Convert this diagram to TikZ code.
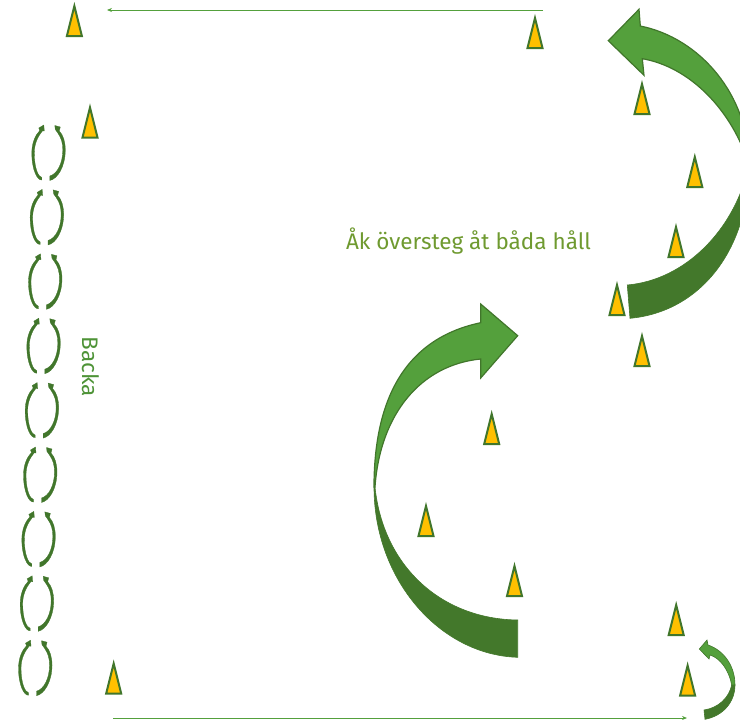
\documentclass[tikz,border=0pt]{standalone}
\usepackage{fontspec}
\setmainfont{Fira Sans}
\usetikzlibrary{arrows.meta}
\definecolor{bordergreen}{HTML}{41762B}
\definecolor{lightgreen}{HTML}{54A03C}
\definecolor{darkgreen}{HTML}{43782B}
\definecolor{textgreen}{HTML}{6F9A30}
\definecolor{cone}{HTML}{FFC000}
\tikzset{
  conemark/.style={draw=bordergreen,fill=cone,line width=2pt,line join=miter},
  upperarc/.style={draw=bordergreen,fill=lightgreen,line width=1.2pt,line join=miter},
  lowerarc/.style={draw=darkgreen,fill=darkgreen,line width=.6pt,line join=miter},
  linkarc/.style={fill=bordergreen,draw=bordergreen,line width=.3pt},
  runline/.style={draw=lightgreen,line width=.8pt,-{Stealth[length=5pt,width=4pt]}},
  caption/.style={inner sep=0pt,font=\fontsize{22.5}{26}\selectfont}
}
\begin{document}
\begin{tikzpicture}[x=1pt,y=-1pt]
\useasboundingbox (0,0) rectangle (740,720);
\clip (0,0) rectangle (740,720);
% cones
\foreach \cx/\cy in {74.4/6,535/18,642/84,694.8/157,676/227,617/285,642/336,90/107.5,491.7/414,426/506,514.5/566,676.2/605,687.6/665.5,113.7/663.5}{
  \draw[conemark] (\cx,\cy) -- (\cx+7.5,\cy+30) -- (\cx-7.5,\cy+30) -- cycle;
}
% large lower arrow
\fill[lowerarc] (374,487) .. controls (374,580) and (440,655) .. (517.7,657.3) -- (517.7,620) .. controls (440,619) and (383,565) .. (375,487) -- cycle;
\draw[upperarc] (374,487) .. controls (374,395) and (408,338) .. (480.7,322.7) -- (480.7,304) -- (517.7,335.7) -- (480.7,378) -- (480.7,359) .. controls (420,365) and (380,415) .. (375,487) -- cycle;
% large upper arrow
\fill[lowerarc] (749,165) .. controls (749,250) and (700,312) .. (630,318.3) -- (627.3,285) .. controls (685,280) and (735,230) .. (749,165) -- cycle;
\draw[upperarc] (749,165) .. controls (749,95) and (700,38) .. (640.3,26) -- (639,9.3) -- (608.3,40.7) -- (644,75.3) -- (642.3,58.7) .. controls (690,67) and (732,110) .. (749,165) -- cycle;
% small arrow
\fill[lowerarc] (735,685) .. controls (735,702) and (723,716) .. (705,719.3) -- (704,710) .. controls (718,708) and (729,698) .. (731.7,685) -- cycle;
\draw[upperarc,line width=.6pt] (735,685) .. controls (735,665) and (723,650) .. (708,645) -- (707,640) -- (699.3,649) -- (709,659) -- (710,655) .. controls (720,658) and (729,670) .. (731.7,685) -- cycle;
% chain of links
\foreach \i in {0,...,8}{
  \begin{scope}[shift={({43.3-1.66*\i},{125+64.4*\i})}]
    \fill[linkarc] (-1.5,55) .. controls (-6,55.5) and (-11.5,45) .. (-11.5,28) .. controls (-11.5,18) and (-8,10) .. (-3.5,5.5) -- (-4.5,3) -- (0.5,0) -- (1,6) -- (-.8,5.8) .. controls (-5,11) and (-9,18) .. (-9,28) .. controls (-9,43) and (-5,52) .. (-1.5,52.5) -- cycle;
    \fill[linkarc] (6.5,55.5) .. controls (14,54) and (22,42) .. (22,25) .. controls (22,17) and (20,10) .. (16,6) -- (17,2) -- (11.5,.5) -- (12,4.5) -- (14.5,8) .. controls (18,13) and (19.5,18) .. (19.5,25) .. controls (19.5,38) and (14,49) .. (6.5,51) -- cycle;
  \end{scope}
}
% run lines
\coordinate (topstart) at (543,10);
\coordinate (topend) at (107,10);
\coordinate (botstart) at (113,718);
\coordinate (botend) at (687,718);
\draw[runline] (topstart) -- (topend);
\draw[runline] (botstart) -- (botend);
% labels
\node[caption,text=textgreen,anchor=center] (drill) at (468.5,241) {Åk översteg åt båda håll};
\node[caption,text=lightgreen!70!bordergreen,rotate=-90,anchor=center] (back) at (90.5,367) {Backa};
\end{tikzpicture}
\end{document}
